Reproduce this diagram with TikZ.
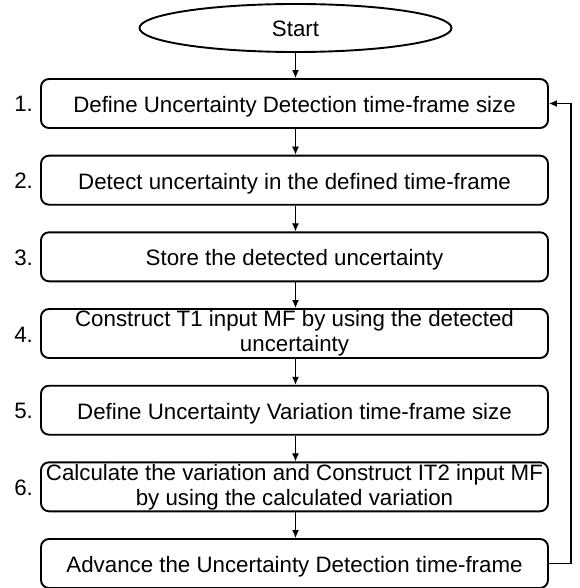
\documentclass[tikz,border=0pt]{standalone}
\usepackage{fontspec}
\setmainfont{Liberation Sans}
\usetikzlibrary{arrows.meta,shapes.geometric}
\begin{document}
\begin{tikzpicture}[x=1bp,y=-1bp,
  every node/.style={font=\fontsize{22.3bp}{25bp}\selectfont},
  stepbox/.style={draw, line width=1.9bp, rounded corners=8bp,
    minimum width=507bp, minimum height=49bp, inner sep=0pt, align=center},
  oneline/.style={text height=18bp, text depth=0pt},
  startshape/.style={draw, ellipse, line width=1.9bp,
    minimum width=312bp, minimum height=48bp, inner sep=0pt,
    text height=18bp, text depth=0pt},
  numlabel/.style={inner sep=0pt, text height=17bp, text depth=0pt},
  flow/.style={line width=1.2bp, -{Latex[length=8bp,width=7bp]}}]
\useasboundingbox (0,0) rectangle (580,588);

\node[startshape] (start) at (295.5,28) {Start};

\node[stepbox, oneline] (s1) at (294.5,103.5) {Define Uncertainty Detection time-frame size};
\node[stepbox, oneline] (s2) at (294.5,180.2) {Detect uncertainty in the defined time-frame};
\node[stepbox, oneline] (s3) at (294.5,256.8) {Store the detected uncertainty};
\node[stepbox] (s4) at (294.5,333.5) {Construct T1 input MF by using the detected\\uncertainty};
\node[stepbox, oneline] (s5) at (294.5,410.2) {Define Uncertainty Variation time-frame size};
\node[stepbox] (s6) at (294.5,486.8) {Calculate the variation and Construct IT2 input MF\\by using the calculated variation};
\node[stepbox, oneline] (s7) at (294.5,563.5) {Advance the Uncertainty Detection time-frame};

\foreach \i in {1,...,6}
  \node[numlabel, anchor=east] (n\i) at ([xshift=-7bp]s\i.west) {\i.};

\draw[flow] (start.south -| 295.5,0) -- (s1.north -| 295.5,0);
\foreach \a/\b in {s1/s2,s2/s3,s3/s4,s4/s5,s5/s6,s6/s7}
  \draw[flow] ([xshift=1bp]\a.south) -- ([xshift=1bp]\b.north);

\coordinate (loopbot) at (571,563.5);
\coordinate (looptop) at (571,103.5);
\draw[flow] (s7.east) -- (loopbot) -- (looptop) -- (s1.east);
\end{tikzpicture}
\end{document}
